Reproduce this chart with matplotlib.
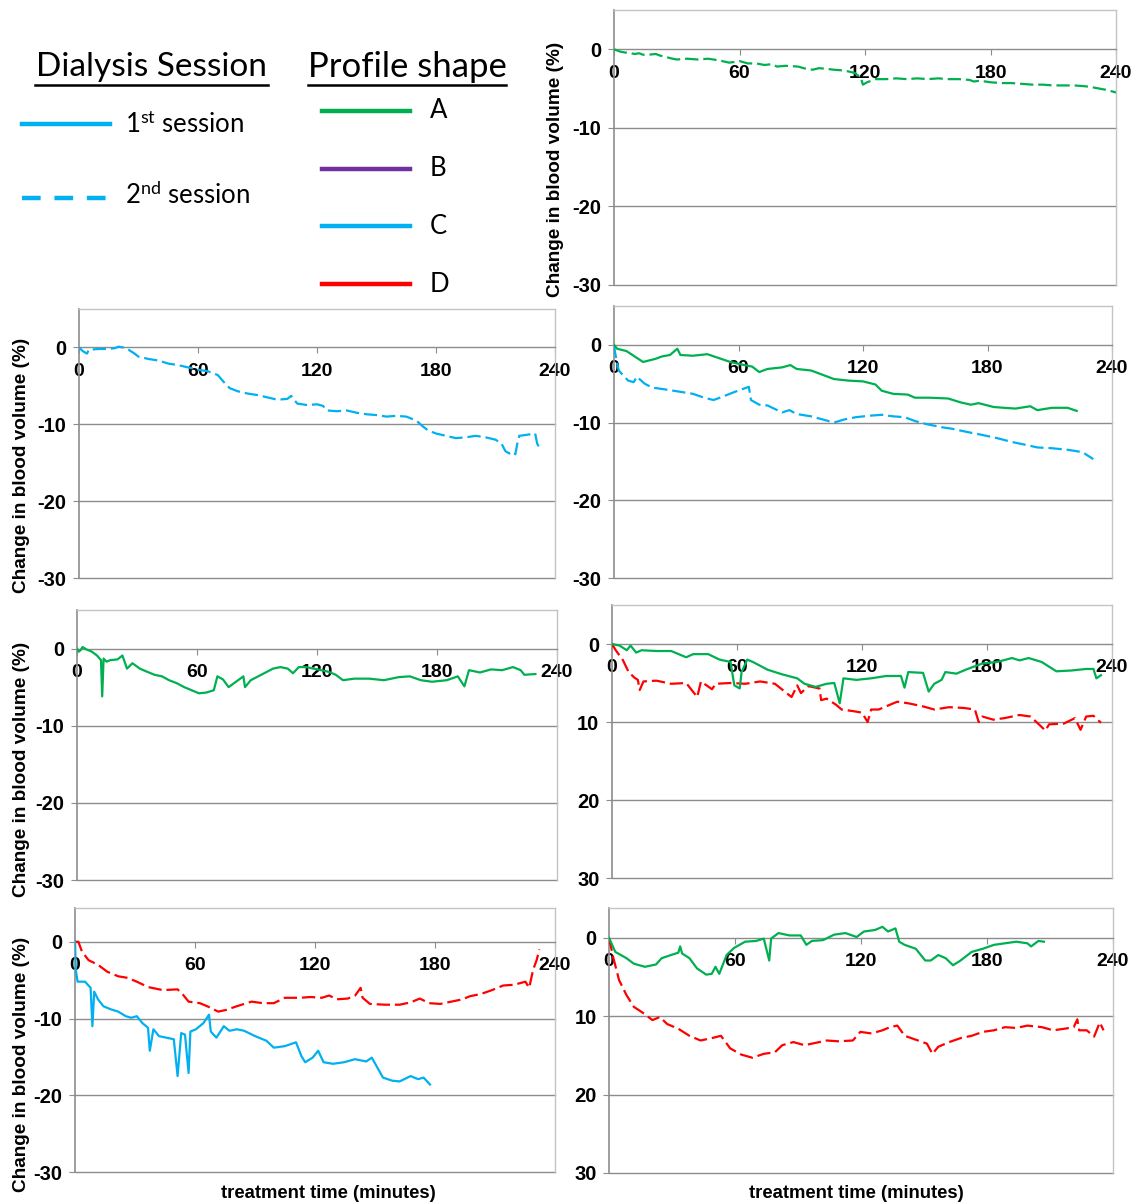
import matplotlib
matplotlib.use("Agg")
import matplotlib.pyplot as plt
from matplotlib.lines import Line2D

plt.rcParams['font.family'] = ['Liberation Sans', 'DejaVu Sans']
plt.rcParams['mathtext.fontset'] = 'custom'
plt.rcParams['mathtext.rm'] = 'Lato'
plt.rcParams['mathtext.it'] = 'Lato:italic'
plt.rcParams['mathtext.bf'] = 'Lato:bold'

GREEN = '#00B050'
BLUE = '#00B0F0'
RED = '#FF0000'
PURPLE = '#7030A0'

x_ticks = [0, 60, 120, 180, 240]
y_ticks = [0, -10, -20, -30]
y_labels_neg = ['0', '-10', '-20', '-30']
y_labels_cut = ['0', '10', '20', '30']

# ---------------- data (minutes, % change in blood volume) ----------------
# Panel 1: profile A, 2nd session
p1_A2_t = [0, 3, 5, 8, 10, 12, 14, 16, 20, 22, 25, 28, 30, 35, 40, 45, 50, 55, 58, 60,
           64, 68, 72, 75, 78, 82, 88, 92, 95, 98, 102, 105, 110, 115, 118, 119, 121,
           125, 130, 135, 140, 145, 150, 155, 160, 165, 170, 172, 175, 180, 185, 190,
           195, 200, 205, 210, 215, 220, 225, 228, 232, 236, 240]
p1_A2_v = [0, -0.3, -0.4, -0.5, -0.6, -0.5, -0.7, -0.7, -0.6, -0.8, -1.0, -1.2, -1.3,
           -1.2, -1.3, -1.2, -1.4, -1.7, -1.6, -1.5, -1.8, -1.8, -2.0, -1.9, -2.2, -2.1,
           -2.2, -2.5, -2.6, -2.4, -2.5, -2.6, -2.7, -3.0, -3.6, -4.5, -4.2, -3.8, -3.8,
           -3.7, -3.8, -3.7, -3.8, -3.7, -3.8, -3.8, -3.9, -4.1, -4.0, -4.2, -4.3, -4.3,
           -4.4, -4.5, -4.5, -4.6, -4.6, -4.6, -4.7, -4.8, -5.0, -5.2, -5.5]

# Panel 2: profile C, 2nd session
p2_C2_t = [0, 2, 4, 5, 10, 15, 18, 20, 22, 25, 28, 30, 35, 40, 45, 50, 55, 60, 65, 70,
           73, 76, 80, 85, 90, 95, 100, 105, 107, 110, 115, 120, 123, 125, 130, 135, 140,
           145, 150, 155, 160, 165, 170, 173, 176, 180, 185, 190, 195, 200, 205, 210,
           213, 215, 217, 219, 220, 221, 222, 225, 230, 231, 232]
p2_C2_v = [0, -0.5, -0.8, -0.3, -0.2, -0.2, -0.1, 0.1, 0.0, -0.3, -0.8, -1.2, -1.5, -1.7,
           -2.1, -2.3, -2.6, -2.9, -3.1, -3.6, -4.5, -5.3, -5.7, -6.0, -6.2, -6.5, -6.8,
           -6.7, -6.3, -7.3, -7.5, -7.4, -7.6, -8.2, -8.3, -8.2, -8.5, -8.7, -8.8, -9.0,
           -8.9, -9.0, -9.5, -10.2, -10.8, -11.2, -11.5, -11.8, -11.7, -11.5, -11.7,
           -12.0, -12.5, -13.5, -13.8, -13.6, -13.9, -12.5, -11.5, -11.4, -11.2, -12.5,
           -13.0]

# Panel 3: profile A 1st session, profile C 2nd session
p3_A1_t = [0, 1.5, 6, 14, 20, 23, 27, 30.5, 32, 38, 45, 50.5, 56, 61, 66.6, 70, 74, 81,
           85, 88, 95, 102, 106, 113, 120, 126, 129, 134.5, 141.6, 145, 152, 161, 167,
           172, 175.7, 183, 188, 193.5, 200.6, 204, 211, 218.6, 223]
p3_A1_v = [0, -0.5, -0.8, -2.2, -1.8, -1.5, -1.3, -0.5, -1.3, -1.4, -1.2, -1.7, -2.2,
           -2.5, -2.8, -3.5, -3.1, -2.9, -2.6, -3.1, -3.3, -4.0, -4.4, -4.6, -4.7, -5.1,
           -5.9, -6.3, -6.4, -6.8, -6.8, -6.9, -7.4, -7.7, -7.5, -8.0, -8.1, -8.2, -7.9,
           -8.4, -8.1, -8.1, -8.5]
p3_C2_t = [0, 0.5, 2.3, 6.8, 9.5, 11, 14.8, 18.4, 23.8, 31, 38, 43.4, 48, 52, 57.7, 65,
           66, 70, 74, 81, 84.5, 88, 95, 100.6, 106, 111, 116.7, 124, 129, 134.5, 140,
           145, 150.6, 158, 163, 170, 177.6, 184.6, 191.8, 199, 204, 211, 218.6, 225.7,
           231]
p3_C2_v = [0, -1.0, -3.3, -4.6, -4.8, -4.1, -5.0, -5.5, -5.7, -6.0, -6.3, -6.8, -7.1,
           -6.7, -6.1, -5.4, -7.1, -7.7, -7.8, -8.7, -8.4, -8.9, -9.2, -9.6, -10.0, -9.6,
           -9.3, -9.1, -9.0, -9.2, -9.3, -9.8, -10.2, -10.6, -10.8, -11.2, -11.6, -12.0,
           -12.5, -12.9, -13.2, -13.3, -13.5, -13.8, -14.7]

# Panel 4: profile A, 1st session
p4_A1_t = [0, 0.9, 1.8, 2.8, 4.6, 7.4, 10, 12, 12.6, 13.3, 14.8, 16.6, 20.3, 22.7, 25,
           27.7, 31.4, 35, 38.8, 42.5, 46, 50, 53.6, 57.3, 61, 64.7, 68.4, 70.2, 73, 75.8,
           79.5, 83.2, 84, 86.9, 90.6, 94.3, 98, 101.7, 105.4, 108, 110.9, 114.6, 118.3,
           122, 125.7, 129.4, 133, 138.7, 146, 153.5, 160.9, 166.4, 171.9, 177.5, 184.9,
           190.4, 193.7, 196, 201.5, 207, 212.6, 218, 221.8, 223.7, 229.2]
p4_A1_v = [0, -0.4, -0.2, 0.2, -0.1, -0.4, -0.9, -1.5, -6.2, -1.3, -1.7, -1.5, -1.4,
           -0.9, -2.6, -1.9, -2.6, -3.0, -3.4, -3.6, -4.1, -4.5, -5.0, -5.4, -5.8, -5.7,
           -5.4, -3.6, -4.0, -5.0, -4.3, -3.6, -5.0, -4.1, -3.6, -3.1, -2.6, -2.4, -2.6,
           -3.2, -2.4, -2.4, -2.6, -2.8, -3.0, -3.4, -4.1, -3.9, -3.9, -4.1, -3.7, -3.6,
           -4.1, -4.3, -4.1, -3.6, -4.9, -2.8, -3.1, -2.7, -2.8, -2.4, -2.8, -3.4, -3.3]

# Panel 5: profile A 1st session, profile D 2nd session
p5_A1_t = [0, 3.6, 7.1, 8.9, 11.6, 14.2, 21.3, 28.4, 35.6, 39, 46.2, 51.6, 56.9, 58.7,
           61.3, 62.2, 64.9, 67.6, 74.7, 81.8, 88.9, 92.4, 97.8, 103, 106.7, 109.3,
           111.1, 117.3, 124.4, 131.6, 138.7, 140.4, 142.2, 149.3, 152, 154.7, 158.2,
           160, 165.3, 170.7, 177.8, 184.9, 192, 195.6, 200, 206.2, 213.3, 220.4, 227.6,
           231.1, 232.5, 234.7]
p5_A1_v = [0, -0.2, -0.8, -0.2, -1.1, -0.8, -0.9, -0.9, -1.7, -1.3, -1.3, -2.0, -2.3,
           -5.3, -5.7, -3.6, -2.0, -2.3, -3.3, -3.9, -4.4, -5.1, -5.5, -5.1, -5.0, -7.6,
           -4.4, -4.6, -4.4, -4.1, -4.1, -5.6, -3.6, -3.7, -6.1, -5.1, -4.6, -3.6, -3.8,
           -3.2, -2.5, -2.3, -1.8, -2.1, -1.8, -2.3, -3.5, -3.4, -3.2, -3.2, -4.4, -4.0]
p5_D2_t = [0, 1.8, 5.3, 8, 10.7, 12.4, 13.3, 15.1, 21.3, 28.4, 35.6, 40.9, 42.7, 48, 49.8,
           56.9, 64, 71.1, 78.2, 86.2, 88.9, 90.7, 94.2, 99.6, 100.4, 103, 107.6, 110.2,
           115.6, 120, 122.7, 124.4, 128, 133.3, 136.9, 142.2, 149.3, 154.7, 161.8,
           168.9, 174.2, 176, 177.8, 183, 188.4, 195.6, 200.9, 205.3, 208, 209.8, 216.9,
           222.2, 224.9, 227.6, 231.1, 234.7]
p5_D2_v = [0, -0.8, -2.1, -3.6, -4.3, -4.6, -5.9, -4.8, -4.7, -5.1, -5.0, -6.8, -4.8,
           -5.8, -5.1, -5.0, -5.1, -4.8, -5.1, -6.8, -5.3, -6.3, -5.4, -5.7, -7.2, -7.0,
           -7.8, -8.4, -8.6, -8.8, -10.0, -8.4, -8.4, -7.8, -7.4, -7.6, -8.0, -8.4, -8.1,
           -8.2, -8.4, -10.0, -9.3, -9.7, -9.5, -9.1, -9.3, -10.4, -11.1, -10.3, -10.2,
           -9.5, -11.0, -9.3, -9.2, -10.1]

# Panel 6: profile C 1st session, profile D 2nd session
p6_C1_t = [0, 0.4, 1.3, 5, 7.8, 8.7, 9.6, 11.5, 14.2, 17.9, 21.6, 25.4, 28.1, 30.9, 33.7,
           36.5, 37.4, 39.2, 42, 45.7, 49.4, 51.3, 53.1, 55, 56.8, 57.7, 60.5, 64.2, 67,
           67.9, 70.7, 74.4, 77.2, 80.9, 84.6, 90.1, 95.7, 99.4, 104.9, 110.5, 113.2,
           115.1, 118.8, 121.6, 124.3, 129, 134.5, 140, 145.6, 148.4, 151.2, 154, 158.6,
           162.3, 167.8, 171.5, 174.3, 177.5]
p6_C1_v = [0, -3.7, -5.2, -5.2, -6.0, -11.0, -6.5, -7.5, -8.4, -8.8, -9.1, -9.7, -9.9,
           -9.7, -10.6, -11.2, -14.2, -11.4, -12.3, -12.5, -12.7, -17.5, -11.9, -12.1,
           -17.1, -11.7, -11.4, -10.6, -9.5, -11.7, -12.5, -11.0, -11.6, -11.4, -11.6,
           -12.3, -12.9, -13.8, -13.6, -13.1, -14.9, -15.7, -15.1, -14.2, -15.7, -15.9,
           -15.7, -15.3, -15.6, -15.1, -16.4, -17.7, -18.1, -18.2, -17.5, -17.9, -17.7,
           -18.6]
p6_D2_t = [0, 1.7, 3.5, 6.8, 11.5, 16.1, 21.6, 26.3, 30.9, 36.5, 43.9, 51.3, 54, 56.8,
           62.4, 66.1, 71.6, 75.3, 80.9, 88.3, 93.8, 99.4, 104.9, 112.3, 117.8, 123.4,
           127.1, 130.8, 136.4, 140.1, 142.8, 143.8, 147.5, 154.9, 162.3, 167.8, 172.4,
           177.1, 182.6, 188.2, 193.7, 197.4, 203, 208.5, 214.1, 219.6, 225.2, 227.1, 229,
           230.8, 232.2]
p6_D2_v = [0, 0, -1.3, -2.4, -3.0, -3.9, -4.5, -4.7, -5.2, -5.9, -6.3, -6.2, -6.9, -7.8,
           -8.0, -8.4, -9.1, -8.9, -8.4, -7.8, -8.0, -8.0, -7.3, -7.3, -7.2, -7.3, -7.0,
           -7.5, -7.4, -7.0, -6.0, -7.3, -8.1, -8.2, -8.2, -7.9, -7.4, -8.0, -8.1, -7.8,
           -7.5, -7.1, -6.8, -6.3, -5.7, -5.6, -5.2, -6.0, -3.7, -2.4, -1.0]

# Panel 7: profile A 1st session, profile D 2nd session
p7_A1_t = [0, 3, 8.3, 11.8, 17.1, 22.4, 25.1, 29.5, 33, 33.9, 34.8, 38.3, 41.9, 46.3,
           48.9, 50.7, 52.5, 56, 59.5, 64.8, 70.1, 73.7, 76.3, 77.2, 80.7, 86, 91.3, 94,
           96.6, 101.9, 107.2, 112.6, 117.9, 121.4, 126.7, 130.2, 132.9, 136.4, 138.2,
           140.8, 146.1, 150.6, 153.2, 156.8, 160.3, 163.8, 167.4, 172.7, 178, 183.3,
           188.6, 193.9, 199.2, 201, 204.5, 207.1]
p7_A1_v = [0, -1.8, -2.6, -3.3, -3.7, -3.4, -2.6, -2.2, -1.9, -1.1, -2.0, -2.6, -3.9,
           -4.7, -4.6, -3.7, -4.6, -2.2, -1.3, -0.5, -0.4, -0.1, -2.9, -0.1, 0.6, 0.3,
           0.3, -0.9, -0.4, -0.3, 0.4, 0.6, 0.1, 0.8, 1.0, 1.4, 0.8, 1.2, -0.5, -0.9,
           -1.4, -2.9, -2.9, -2.2, -2.6, -3.5, -2.9, -1.8, -1.4, -0.9, -0.7, -0.5, -0.7,
           -1.1, -0.4, -0.5]
p7_D2_t = [0, 2.1, 4.8, 8.3, 11.8, 16.3, 20.7, 24.2, 27.7, 33, 38.3, 43.6, 48.9, 53.3,
           57.7, 63, 68.3, 73.7, 79, 82.5, 87.8, 93.1, 98.4, 103.7, 109.1, 116.1, 119.7,
           125, 130.2, 133.8, 137.3, 140.8, 146.1, 151.4, 154, 156.8, 162, 167.4, 172.7,
           178, 183.3, 188.6, 193.9, 199.2, 206.2, 211.5, 216.9, 221.3, 223, 223.9, 227.5,
           231, 233.7, 235.5]
p7_D2_v = [0, -2.6, -5.4, -7.3, -8.8, -9.6, -10.5, -10.1, -11.0, -11.6, -12.5, -13.1,
           -12.8, -12.5, -14.1, -14.9, -15.3, -14.8, -14.6, -13.7, -13.3, -13.7, -13.4,
           -13.1, -13.2, -13.1, -12.0, -12.2, -11.8, -11.4, -11.2, -12.5, -13.0, -13.5,
           -14.8, -13.9, -13.3, -12.8, -12.5, -12.0, -11.8, -11.4, -11.5, -11.2, -11.4,
           -11.8, -11.6, -11.4, -10.4, -11.8, -11.8, -12.6, -10.8, -11.8]

# ---------------- figure ----------------
W, H = 1141, 1204
fig = plt.figure(figsize=(W / 100, H / 100), dpi=100)

GRID = '#8c8c8c'
FRAME = '#c4c4c4'
DASH = (6, 2.2)


def add_panel(left, right, top, bottom, ytop, ylabels):
    ax = fig.add_axes([left / W, 1 - bottom / H, (right - left) / W, (bottom - top) / H])
    ax.set_xlim(0, 240)
    ax.set_ylim(-30, ytop)
    for s in ['top', 'right']:
        ax.spines[s].set_color(FRAME)
        ax.spines[s].set_linewidth(1.0)
    ax.spines['left'].set_color(GRID)
    ax.spines['left'].set_linewidth(1.2)
    ax.spines['bottom'].set_position(('data', 0))
    ax.spines['bottom'].set_color(GRID)
    ax.spines['bottom'].set_linewidth(1.0)
    for yv in [-10, -20, -30]:
        ax.axhline(yv, color=GRID, lw=1.0, zorder=0.5, clip_on=False)
    ax.set_xticks(x_ticks)
    ax.set_xticklabels([str(v) for v in x_ticks], fontsize=14, fontweight='bold')
    ax.set_yticks(y_ticks)
    ax.set_yticklabels(ylabels, fontsize=14.5, fontweight='bold')
    ax.tick_params(axis='x', direction='out', length=4, color=GRID, pad=7)
    ax.tick_params(axis='y', direction='out', length=4, color=GRID, pad=5)
    ax.patch.set_alpha(0)
    return ax


def solid(ax, t, v, c):
    ax.plot(t, v, color=c, lw=1.6, solid_joinstyle='round', zorder=3)


def dashed(ax, t, v, c):
    ax.plot(t, v, color=c, lw=1.6, dashes=DASH, zorder=3)


ax1 = add_panel(614, 1116, 10, 285, 5, y_labels_neg)
dashed(ax1, p1_A2_t, p1_A2_v, GREEN)

ax2 = add_panel(79, 555, 309, 578, 5, y_labels_neg)
dashed(ax2, p2_C2_t, p2_C2_v, BLUE)

ax3 = add_panel(614, 1112, 306, 578, 5, y_labels_neg)
dashed(ax3, p3_C2_t, p3_C2_v, BLUE)
solid(ax3, p3_A1_t, p3_A1_v, GREEN)

ax4 = add_panel(77, 557, 610, 880, 5, y_labels_neg)
solid(ax4, p4_A1_t, p4_A1_v, GREEN)

ax5 = add_panel(612, 1112, 605, 878, 5, y_labels_cut)
dashed(ax5, p5_D2_t, p5_D2_v, RED)
solid(ax5, p5_A1_t, p5_A1_v, GREEN)

ax6 = add_panel(75, 555, 908, 1172, 4.4, y_labels_neg)
dashed(ax6, p6_D2_t, p6_D2_v, RED)
solid(ax6, p6_C1_t, p6_C1_v, BLUE)

ax7 = add_panel(609, 1113, 908, 1173, 3.8, y_labels_cut)
dashed(ax7, p7_D2_t, p7_D2_v, RED)
solid(ax7, p7_A1_t, p7_A1_v, GREEN)

# axis titles
YLAB = 'Change in blood volume (%)'
for (xp, yp) in [(556, 169), (22, 465), (22, 769), (22, 1064)]:
    fig.text(xp / W, 1 - yp / H, YLAB, rotation=90, ha='center', va='center',
             fontsize=13.7, fontweight='bold')
for xp in [328, 856]:
    fig.text(xp / W, 1 - 1193 / H, 'treatment time (minutes)', ha='center', va='center',
             fontsize=13.3, fontweight='bold')

# ---------------- legend area ----------------
LEG_FONT = ['Lato', 'DejaVu Sans']


def fx(px):
    return px / W


def fy(py):
    return 1 - py / H


fig.text(fx(151), fy(67), 'Dialysis Session', ha='center', va='center', fontsize=24,
         family=LEG_FONT)
fig.text(fx(407), fy(67), 'Profile shape', ha='center', va='center', fontsize=25,
         family=LEG_FONT)
fig.add_artist(Line2D([fx(35), fx(268)], [fy(85), fy(85)], color='black', lw=1.8))
fig.add_artist(Line2D([fx(308), fx(506)], [fy(85), fy(85)], color='black', lw=1.8))

fig.add_artist(Line2D([fx(22), fx(110)], [fy(124), fy(124)], color=BLUE, lw=3.2))
fig.add_artist(Line2D([fx(22), fx(108)], [fy(198), fy(198)], color=BLUE, lw=3.2,
                      dashes=(4.2, 3.1)))
fig.text(fx(125), fy(125), r'1$^{\mathrm{st}}$ session', ha='left', va='center',
         fontsize=18.5, family=LEG_FONT)
fig.text(fx(125), fy(195), r'2$^{\mathrm{nd}}$ session', ha='left', va='center',
         fontsize=18.5, family=LEG_FONT)

profile_names = ['A', 'B', 'C', 'D']
profile_colors = [GREEN, PURPLE, BLUE, RED]
profile_y = [111, 169, 226, 284]
for name, col, yp in zip(profile_names, profile_colors, profile_y):
    fig.add_artist(Line2D([fx(322), fx(410)], [fy(yp), fy(yp)], color=col, lw=3.2))
    fig.text(fx(430), fy(yp), name, ha='left', va='center', fontsize=18.5, family=LEG_FONT)

fig.savefig('out.png', dpi=100)
